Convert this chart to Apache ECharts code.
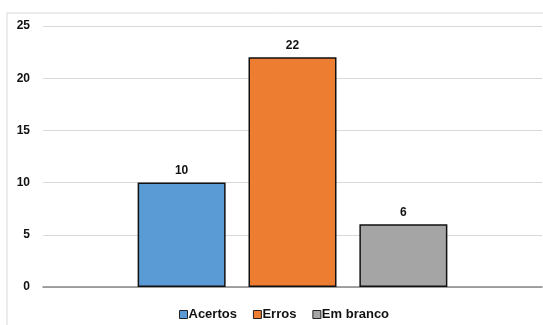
<!DOCTYPE html>
<html>
<head>
<meta charset="utf-8">
<script src="https://cdn.jsdelivr.net/npm/echarts@6/dist/echarts.min.js"></script>
<style>
  html, body { margin: 0; padding: 0; background: #fff; }
  #chart { width: 543px; height: 325px; }
</style>
</head>
<body>
<div id="chart"></div>
<script>
// dados do gráfico
var categorias = ['Resultado'];
var nomesSeries = ['Acertos', 'Erros', 'Em branco'];
var valores = [10, 22, 6];
var cores = ['#5B9BD5', '#ED7D31', '#A5A5A5'];
var ticksY = [0, 5, 10, 15, 20, 25];

var chart = echarts.init(document.getElementById('chart'));

var series = nomesSeries.map(function (nome, i) {
    return {
        name: nome,
        type: 'bar',
        data: [valores[i]],
        barWidth: 88,
        barGap: '26%',
        itemStyle: {
            color: cores[i],
            borderColor: '#111',
            borderWidth: 1.5
        },
        label: {
            show: true,
            position: 'top',
            distance: 6,
            color: '#111',
            fontFamily: 'Liberation Sans, Arial',
            fontWeight: 'bold',
            fontSize: 12
        }
    };
});

var option = {
    animation: false,
    graphic: [{
        type: 'rect',
        shape: { x: 7, y: 13, width: 600, height: 400 },
        style: { fill: 'none', stroke: '#d9d9d9', lineWidth: 1 },
        silent: true
    }],
    grid: { left: 43, right: 1, top: 26, bottom: 38 },
    legend: {
        data: nomesSeries,
        top: 303,
        left: 174,
        icon: 'rect',
        itemWidth: 8,
        itemHeight: 8,
        itemGap: 16,
        textStyle: {
            color: '#111',
            fontFamily: 'Liberation Sans, Arial',
            fontWeight: 'bold',
            fontSize: 13,
            padding: [0, 0, 0, -4]
        },
        itemStyle: { borderColor: '#222', borderWidth: 1 }
    },
    xAxis: {
        type: 'category',
        data: categorias,
        axisLine: { lineStyle: { color: '#868686', width: 1.5 } },
        axisTick: { show: false },
        axisLabel: { show: false }
    },
    yAxis: {
        type: 'value',
        min: ticksY[0],
        max: ticksY[ticksY.length - 1],
        interval: 5,
        axisLine: { show: false },
        axisTick: { show: false },
        splitLine: { lineStyle: { color: '#d9d9d9' } },
        axisLabel: {
            margin: 13,
            color: '#111',
            fontFamily: 'Liberation Sans, Arial',
            fontWeight: 'bold',
            fontSize: 12
        }
    },
    series: series
};

chart.setOption(option);
</script>
</body>
</html>
